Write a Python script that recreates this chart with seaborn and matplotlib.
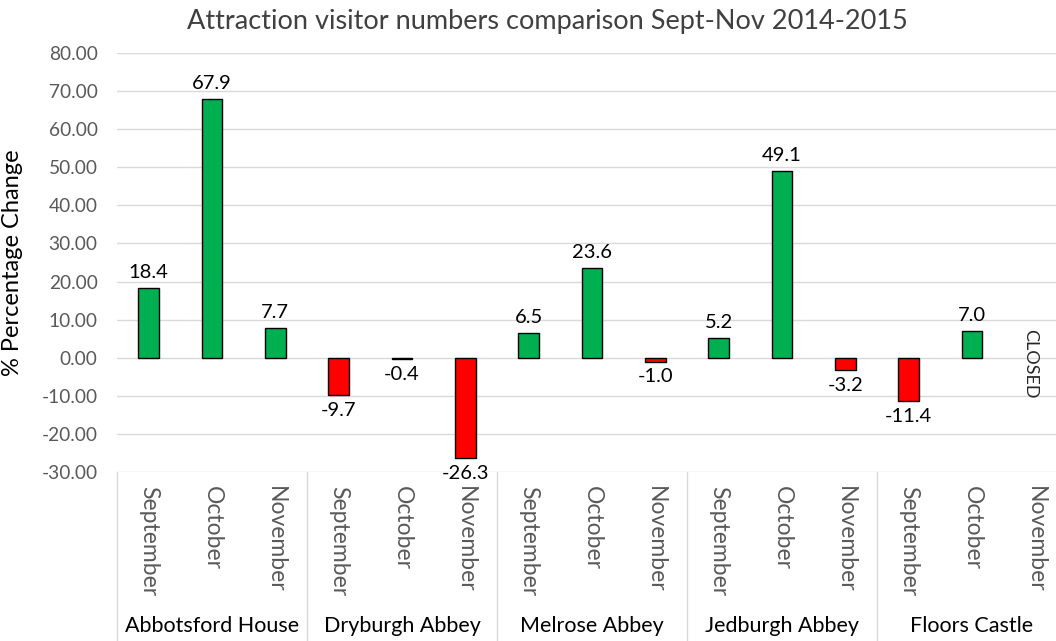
import numpy as np
import pandas as pd
import matplotlib
matplotlib.use("Agg")
import matplotlib.pyplot as plt
import seaborn as sns

attractions = ["Abbotsford House", "Dryburgh Abbey", "Melrose Abbey", "Jedburgh Abbey", "Floors Castle"]
months = ["September", "October", "November"]
abbotsford = [18.4, 67.9, 7.7]
dryburgh = [-9.7, -0.4, -26.3]
melrose = [6.5, 23.6, -1.0]
jedburgh = [5.2, 49.1, -3.2]
floors = [-11.4, 7.0, np.nan]
closed_label = "CLOSED"
yticks = [-30, -20, -10, 0, 10, 20, 30, 40, 50, 60, 70, 80]

series = [abbotsford, dryburgh, melrose, jedburgh, floors]
rows = []
for a, vals in zip(attractions, series):
    for m, v in zip(months, vals):
        rows.append({"attraction": a, "month": m, "slot": f"{a}|{m}", "value": v})
df = pd.DataFrame(rows)
slots = list(df["slot"])
df["sign"] = np.where(df["value"] >= 0, "pos", "neg")
plot_df = df.dropna(subset=["value"])

sns.set_theme(style="white")
plt.rcParams["font.family"] = ["Lato", "DejaVu Sans"]

GREEN = "#00B050"
RED = "#FF0000"
GRID = "#d9d9d9"
TXT = "#595959"

fig = plt.figure(figsize=(10.56, 6.41), dpi=100)
# plot area runs slightly past the right edge of the canvas, as in the reference
ax = fig.add_axes([117 / 1056, 169 / 641, 950 / 1056, 419 / 641])

sns.barplot(data=plot_df, x="slot", y="value", hue="sign", order=slots,
            palette={"pos": GREEN, "neg": RED}, dodge=False, width=0.33,
            saturation=1, edgecolor="black", linewidth=1, legend=False, ax=ax)

for cont in ax.containers:
    labels = ["" if np.isnan(v) else f"{v:.1f}" for v in cont.datavalues]
    ax.bar_label(cont, labels=labels, padding=5, fontsize=14.5, color="black")

ax.set_xlim(-0.5, len(slots) - 0.5)
ax.set_ylim(-30, 80)
ax.set_yticks(yticks)
ax.set_yticklabels([f"{t:.2f}" for t in yticks], fontsize=13.8, color=TXT)
ax.yaxis.grid(True, color=GRID, linewidth=1)
ax.set_axisbelow(True)
for s in ax.spines.values():
    s.set_visible(False)
ax.tick_params(axis="y", length=0, pad=14)
ax.tick_params(axis="x", length=0, pad=10)
ax.set_xticks(range(len(slots)))
ax.set_xticklabels(list(df["month"]), rotation=270, fontsize=16.5, color=TXT)
ax.set_xlabel("")
ax.set_ylabel("% Percentage Change", fontsize=17, color="black")
ax.yaxis.set_label_coords(-0.099, 0.5)

trans = ax.get_xaxis_transform()
bottom = -169 / 419
for i in range(len(attractions) + 1):
    x = i * 3 - 0.5
    ax.plot([x, x], [0, bottom], transform=trans, color=GRID, linewidth=1, clip_on=False)
for i, a in enumerate(attractions):
    ax.text(i * 3 + 1, -0.3675, a, transform=trans, ha="center", va="center",
            fontsize=15.5, color="black")

ax.text(14 - 0.08, -1.7, closed_label, rotation=270, ha="center", va="center",
        fontsize=13, color="#262626")

fig.text(0.518, 0.966, "Attraction visitor numbers comparison Sept-Nov 2014-2015",
         ha="center", va="center", fontsize=19.5, color="#404040")

fig.savefig("out.png", dpi=100)
